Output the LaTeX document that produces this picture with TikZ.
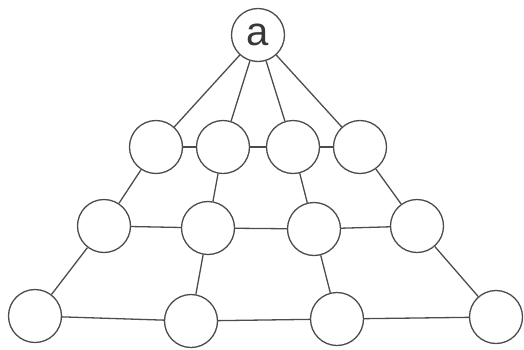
\documentclass[tikz,border=0pt]{standalone}
\usepackage{fontspec}
\setmainfont{Liberation Sans}
\begin{document}
\begin{tikzpicture}[x=1pt,y=-1pt,
  vtx/.style={circle,draw=black!70,line width=1.3pt,fill=white,minimum size=53pt,inner sep=0pt},
  edge/.style={draw=black!70,line width=1.3pt}]
\useasboundingbox (0,0) rectangle (524,349);
\node[vtx] (a) at (258,35) {\fontsize{40}{40}\selectfont\color{black!78}a};
\node[vtx] (p1) at (156,147) {};
\node[vtx] (p2) at (223,147) {};
\node[vtx] (p3) at (293,147) {};
\node[vtx] (p4) at (360,147) {};
\node[vtx] (q1) at (104,226) {};
\node[vtx] (q2) at (208,228) {};
\node[vtx] (q3) at (314,229) {};
\node[vtx] (q4) at (417,226) {};
\node[vtx] (r1) at (35,316) {};
\node[vtx] (r2) at (191,321) {};
\node[vtx] (r3) at (337,319) {};
\node[vtx] (r4) at (496,317) {};
\foreach \i in {1,2,3,4} {
  \draw[edge] (a) -- (p\i);
  \draw[edge] (p\i) -- (q\i);
  \draw[edge] (q\i) -- (r\i);
}
\draw[edge] (p1) -- (p2) -- (p3) -- (p4);
\draw[edge] (q1) -- (q2) -- (q3) -- (q4);
\draw[edge] (r1) -- (r2) -- (r3) -- (r4);
\end{tikzpicture}
\end{document}
